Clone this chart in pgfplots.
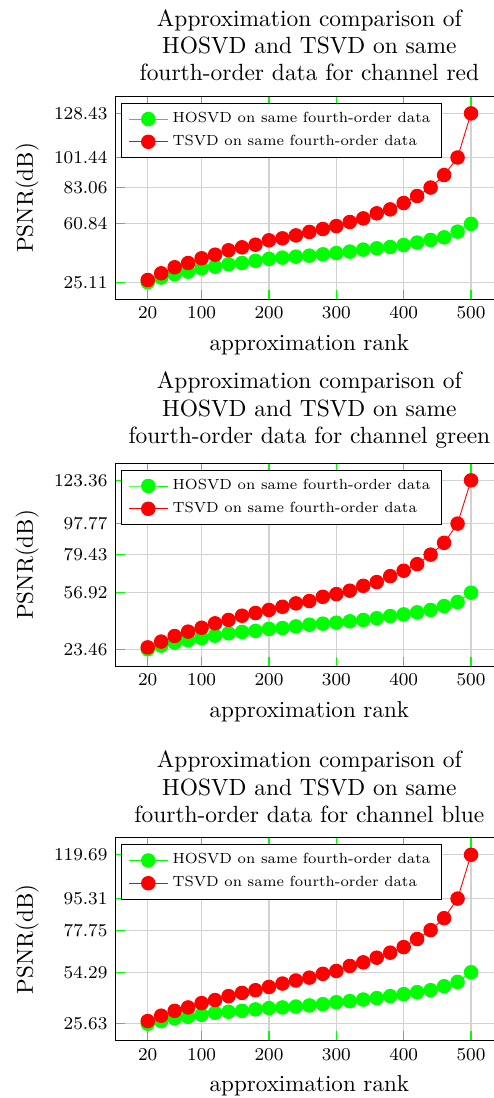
\documentclass[border=0pt]{standalone}
\usepackage{pgfplots}
\pgfplotsset{compat=1.18}
\begin{document}
\begin{tikzpicture}
\pgfplotsset{
 myax/.style={
  scale only axis, width=171.7pt, height=89.7pt,
  anchor=south west,
  xmin=-28, xmax=548,
  enlarge y limits=0.1,
  xtick={20,100,200,300,400,500},
  grid=major, major grid style={gray!35, line width=0.5pt},
  tick style={green, line width=0.5pt},
  tick label style={font=\footnotesize},
  xlabel={approximation rank}, ylabel={PSNR(dB)},
  label style={font=\fontsize{10.2}{12}\selectfont},
  title style={align=center, font=\fontsize{10.37}{12}\selectfont, yshift=-2.7pt},
  legend style={at={(0.015,0.97)}, anchor=north west, font=\fontsize{6.5}{8}\selectfont, draw=black, line width=0.5pt},
  legend cell align=left,
 },
 hos/.style={green, line width=0.4pt, mark=*, mark size=3pt, mark options={fill=green, draw=green}},
 tsv/.style={red, line width=0.4pt, mark=*, mark size=3pt, mark options={fill=red, draw=red}},
}
\begin{axis}[myax, at={(51.06pt,-132.4pt)},
  title={Approximation comparison of\\HOSVD and TSVD on same\\fourth-order data for channel red},
  ytick={25.11,60.84,83.06,101.44,128.43},
  yticklabels={25.11,60.84,83.06,101.44,128.43}]
\addplot[hos] table {
x y
20 25.11
40 28.0
60 30.0
80 31.6
100 33.7
120 34.7
140 36.1
160 36.9
180 38.2
200 39.4
220 40.2
240 40.8
260 41.4
280 42.2
300 43.0
320 43.9
340 45.1
360 45.9
380 46.7
400 47.9
420 49.4
440 51.0
460 52.6
480 56.1
500 60.84
};
\addlegendentry{HOSVD on same fourth-order data}
\addplot[tsv] table {
x y
20 26.5
40 30.6
60 34.3
80 36.9
100 39.8
120 42.0
140 44.7
160 46.5
180 48.1
200 50.8
220 52.0
240 53.8
260 55.9
280 57.7
300 59.5
320 62.0
340 64.2
360 67.3
380 69.7
400 73.6
420 77.9
440 83.06
460 90.7
480 101.44
500 128.43
};
\addlegendentry{TSVD on same fourth-order data}
\end{axis}
\begin{axis}[myax, at={(51.06pt,-294.8pt)},
  title={Approximation comparison of\\HOSVD and TSVD on same\\fourth-order data for channel green},
  ytick={23.46,56.92,79.43,97.77,123.36},
  yticklabels={23.46,56.92,79.43,97.77,123.36}]
\addplot[hos] table {
x y
20 23.46
40 25.6
60 27.4
80 28.8
100 30.1
120 31.5
140 32.9
160 33.7
180 34.3
200 35.5
220 36.0
240 37.0
260 38.0
280 38.6
300 39.2
320 40.0
340 40.8
360 41.8
380 43.1
400 44.1
420 45.3
440 46.7
460 49.0
480 51.4
500 56.92
};
\addlegendentry{HOSVD on same fourth-order data}
\addplot[tsv] table {
x y
20 24.6
40 28.0
60 31.3
80 33.9
100 36.2
120 38.8
140 40.8
160 43.3
180 44.9
200 46.7
220 48.6
240 50.6
260 52.0
280 54.5
300 56.1
320 58.1
340 61.0
360 63.2
380 66.7
400 69.9
420 73.8
440 79.43
460 86.4
480 97.77
500 123.36
};
\addlegendentry{TSVD on same fourth-order data}
\end{axis}
\begin{axis}[myax, at={(51.06pt,-460.5pt)},
  title={Approximation comparison of\\HOSVD and TSVD on same\\fourth-order data for channel blue},
  ytick={25.63,54.29,77.75,95.31,119.69},
  yticklabels={25.63,54.29,77.75,95.31,119.69}]
\addplot[hos] table {
x y
20 25.63
40 27.1
60 28.6
80 29.5
100 30.6
120 31.7
140 32.3
160 32.8
180 33.6
200 34.3
220 34.7
240 35.2
260 35.8
280 36.5
300 37.6
320 38.2
340 39.1
360 39.9
380 41.0
400 42.1
420 43.2
440 44.3
460 46.5
480 48.9
500 54.29
};
\addlegendentry{HOSVD on same fourth-order data}
\addplot[tsv] table {
x y
20 27.1
40 30.1
60 32.8
80 34.7
100 37.1
120 38.8
140 41.0
160 42.8
180 44.3
200 46.1
220 48.0
240 49.7
260 51.3
280 53.4
300 55.0
320 57.8
340 59.8
360 62.4
380 65.2
400 68.3
420 72.8
440 77.75
460 84.4
480 95.31
500 119.69
};
\addlegendentry{TSVD on same fourth-order data}
\end{axis}
\pgfresetboundingbox
\useasboundingbox (0,0) rectangle (218.6pt,-485.9pt);
\end{tikzpicture}
\end{document}
